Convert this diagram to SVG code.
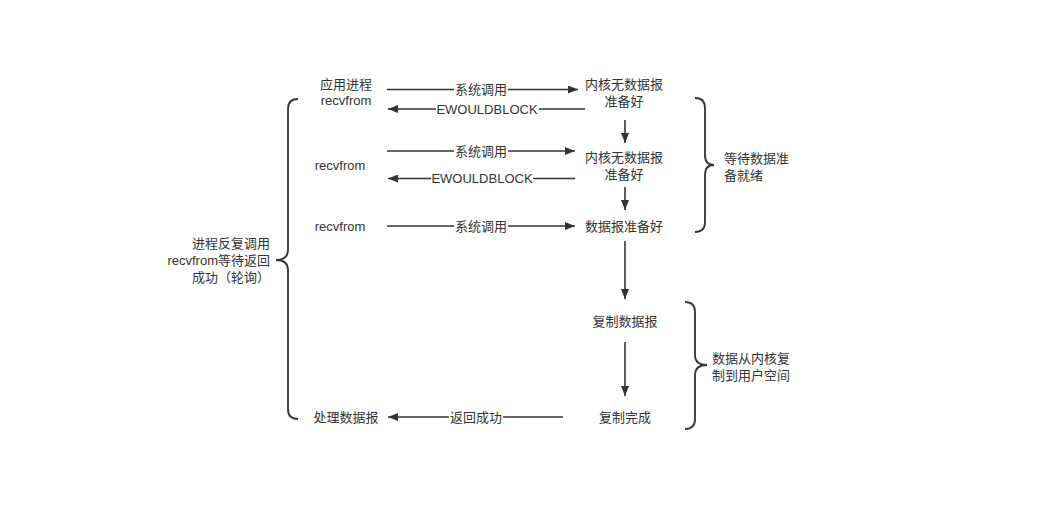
<svg xmlns="http://www.w3.org/2000/svg" width="1039" height="505" viewBox="0 0 1039 505">
<style>
text{font-family:"Liberation Sans","Noto Sans CJK SC",sans-serif;font-size:13px;fill:#333}
.c{text-anchor:middle}
.e{text-anchor:end}
.l{stroke:#333;stroke-width:1.6;fill:none}
.b{stroke:#333;stroke-width:1.8;fill:none}
.bg{fill:#fff}
</style>
<defs>
<marker id="ah" viewBox="0 0 10 8" refX="10" refY="4" markerWidth="10" markerHeight="8" markerUnits="userSpaceOnUse" orient="auto">
<path d="M0,0 L10,4 L0,8 Z" fill="#333"/>
</marker>
</defs>
<rect width="1039" height="505" fill="#fff"/>
<g id="connectors">
<line class="l" x1="387" y1="89.5" x2="578" y2="89.5" marker-end="url(#ah)"/>
<rect class="bg" x="454" y="82" width="54" height="15"/>
<text class="c" x="481" y="94">系统调用</text>
<line class="l" x1="585" y1="109" x2="388" y2="109" marker-end="url(#ah)"/>
<rect class="bg" x="436" y="102" width="103" height="15"/>
<text class="c" x="487" y="113.5">EWOULDBLOCK</text>
<line class="l" x1="625" y1="120" x2="625" y2="143" marker-end="url(#ah)"/>
<line class="l" x1="387" y1="151" x2="575" y2="151" marker-end="url(#ah)"/>
<rect class="bg" x="454" y="144" width="54" height="15"/>
<text class="c" x="481" y="155.5">系统调用</text>
<line class="l" x1="575" y1="178.5" x2="388" y2="178.5" marker-end="url(#ah)"/>
<rect class="bg" x="431" y="171" width="102" height="15"/>
<text class="c" x="482" y="183">EWOULDBLOCK</text>
<line class="l" x1="625" y1="187" x2="625" y2="210" marker-end="url(#ah)"/>
<line class="l" x1="387" y1="226" x2="575" y2="226" marker-end="url(#ah)"/>
<rect class="bg" x="454" y="219" width="54" height="15"/>
<text class="c" x="481" y="230.5">系统调用</text>
<line class="l" x1="625" y1="241" x2="625" y2="299" marker-end="url(#ah)"/>
<line class="l" x1="625" y1="342" x2="625" y2="396" marker-end="url(#ah)"/>
<line class="l" x1="563" y1="417" x2="388" y2="417" marker-end="url(#ah)"/>
<rect class="bg" x="449" y="410" width="54" height="15"/>
<text class="c" x="476" y="421.5">返回成功</text>
<path class="b" d="M298,99 Q288,99 288,109 L288,250 Q288,260 276,260 Q288,260 288,270 L288,409 Q288,419 298,419"/>
<path class="b" d="M695,98 Q705,98 705,108 L705,155 Q705,165 714,165 Q705,165 705,175 L705,222 Q705,232 695,232"/>
<path class="b" d="M685,302 Q695,302 695,312 L695,355 Q695,365 707,365 Q695,365 695,375 L695,419 Q695,429 685,429"/>
</g>
<g id="app1"><text class="c" x="346" y="88.5">应用进程</text><text class="c" x="346" y="105">recvfrom</text></g>
<g id="app2"><text class="c" x="340" y="169.5">recvfrom</text></g>
<g id="app3"><text class="c" x="340" y="230.5">recvfrom</text></g>
<g id="app4"><text class="c" x="346" y="422">处理数据报</text></g>
<g id="k1"><text class="c" x="624" y="88.5">内核无数据报</text><text class="c" x="624" y="106">准备好</text></g>
<g id="k2"><text class="c" x="624" y="161.5">内核无数据报</text><text class="c" x="624" y="179">准备好</text></g>
<g id="k3"><text class="c" x="624" y="230.5">数据报准备好</text></g>
<g id="k4"><text class="c" x="625" y="326">复制数据报</text></g>
<g id="k5"><text class="c" x="625" y="421.5">复制完成</text></g>
<g id="leftnote"><text class="e" x="270" y="247.5">进程反复调用</text><text class="e" x="270" y="264.5">recvfrom等待返回</text><text class="e" x="270" y="281.5">成功（轮询）</text></g>
<g id="wait"><text x="724" y="162.5">等待数据准</text><text x="724" y="179.5">备就绪</text></g>
<g id="copy"><text x="712" y="362.5">数据从内核复</text><text x="712" y="379.5">制到用户空间</text></g>
</svg>
